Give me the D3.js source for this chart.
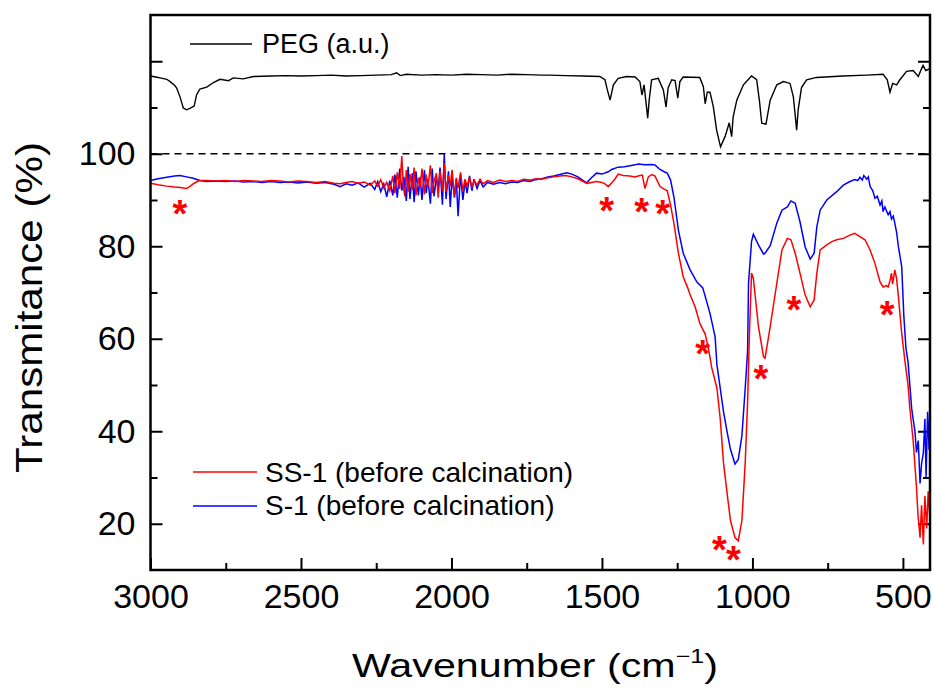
<!DOCTYPE html>
<html>
  <head>
    <meta charset="utf-8">
    <script src="https://d3js.org/d3.v7.min.js"></script>
    <style>
      body { margin: 0; background: #fff; }
      svg { font-family: "Liberation Sans", Arial, sans-serif; }
    </style>
  </head>
  <body>
    <svg id="chart" width="934" height="689"></svg>
    <script>
      // spectra: [wavenumber, value]
      var pegData = [[3000,116.8],[2975,116.5],[2946,116.1],[2935,115.6],[2920,114.8],[2913,114.2],[2902,112.3],[2891,109.9],[2880,109.5],[2869,109.8],[2855,110.3],[2847,112.7],[2836,114.0],[2813,114.4],[2791,115.4],[2769,116.1],[2741,115.8],[2725,116.4],[2692,116.2],[2658,116.7],[2600,116.8],[2550,116.9],[2500,116.8],[2450,116.9],[2400,117.0],[2350,116.8],[2300,116.9],[2250,117.0],[2200,117.1],[2182,117.5],[2170,116.9],[2150,117.2],[2100,117.0],[2050,117.1],[2000,117.0],[1950,117.2],[1900,117.1],[1850,117.0],[1800,117.2],[1750,117.1],[1700,117.0],[1673,117.0],[1620,116.9],[1562,116.8],[1507,116.7],[1490,116.0],[1482,113.8],[1473,111.6],[1462,114.9],[1446,116.3],[1418,116.7],[1390,116.6],[1374,115.6],[1367,112.7],[1360,114.9],[1348,107.7],[1343,111.6],[1335,116.0],[1313,116.3],[1296,113.8],[1287,110.1],[1280,114.3],[1268,116.0],[1257,115.8],[1248,112.0],[1241,115.6],[1230,116.6],[1175,116.5],[1163,114.5],[1157,110.8],[1150,113.3],[1141,113.3],[1130,110.2],[1119,105.1],[1106,101.5],[1091,103.7],[1077,106.7],[1069,103.7],[1064,108.0],[1052,111.6],[1030,114.9],[1003,116.8],[986,116.0],[977,111.6],[969,106.6],[955,106.4],[941,111.6],[919,114.9],[897,115.6],[875,115.2],[864,112.3],[853,105.1],[848,109.5],[837,114.3],[820,116.0],[787,116.5],[700,116.8],[620,117.0],[566,117.2],[552,116.0],[543,113.3],[534,115.2],[521,114.9],[510,116.0],[488,117.8],[466,118.0],[449,116.7],[438,118.4],[433,119.1],[424,118.0],[410,118.4]];

      var ss1Data = [[3000,93.6],[2975,93.3],[2946,93.0],[2920,92.8],[2902,92.7],[2880,92.5],[2870,92.9],[2858,93.5],[2845,94.0],[2836,94.2],[2813,94.2],[2780,94.1],[2750,94.2],[2720,94.0],[2690,94.2],[2660,94.1],[2630,94.0],[2600,94.2],[2570,94.1],[2540,93.9],[2510,94.1],[2480,94.0],[2450,93.8],[2420,94.0],[2390,93.6],[2370,93.5],[2350,93.8],[2330,94.0],[2310,93.6],[2290,93.9],[2270,93.2],[2255,94.1],[2245,93.0],[2235,94.4],[2225,92.6],[2215,93.8],[2205,92.0],[2195,95.2],[2188,91.5],[2180,96.0],[2172,92.4],[2165,99.5],[2160,93.0],[2155,90.8],[2150,96.5],[2144,91.8],[2138,95.6],[2130,92.2],[2124,97.0],[2118,91.0],[2110,94.8],[2104,92.6],[2098,96.8],[2090,91.2],[2084,95.5],[2078,92.8],[2070,97.5],[2064,91.5],[2058,94.0],[2050,95.8],[2044,90.5],[2038,96.2],[2030,92.0],[2024,98.0],[2018,91.8],[2010,95.4],[2004,93.0],[1998,96.5],[1990,90.8],[1984,94.8],[1978,92.5],[1970,96.0],[1962,92.0],[1955,94.5],[1948,93.0],[1940,95.0],[1932,92.8],[1925,94.2],[1915,93.3],[1905,94.5],[1895,93.5],[1880,94.2],[1860,93.8],[1840,94.3],[1820,94.0],[1800,94.2],[1780,94.0],[1760,94.5],[1740,94.3],[1720,94.6],[1700,94.5],[1680,94.8],[1660,95.0],[1640,95.2],[1620,95.3],[1600,95.0],[1580,94.6],[1562,94.0],[1551,93.6],[1535,93.8],[1518,94.0],[1500,93.8],[1490,93.5],[1479,92.9],[1468,93.7],[1456,94.6],[1446,95.6],[1430,95.3],[1407,95.2],[1390,95.0],[1380,95.2],[1366,95.4],[1357,92.5],[1346,95.0],[1335,95.5],[1324,95.2],[1307,92.9],[1295,92.4],[1283,92.0],[1272,88.9],[1261,85.0],[1246,78.5],[1230,73.4],[1215,71.0],[1207,69.5],[1190,66.8],[1174,63.2],[1157,61.0],[1145,57.5],[1135,53.7],[1118,49.3],[1107,42.7],[1096,33.1],[1084,26.5],[1073,20.7],[1058,17.0],[1047,16.3],[1035,20.7],[1024,33.1],[1016,46.4],[1010,61.0],[1003,74.2],[997,73.1],[980,62.6],[963,56.1],[958,55.8],[941,62.6],[919,72.0],[902,79.2],[884,81.7],[872,81.4],[858,78.5],[842,74.2],[825,69.5],[808,66.9],[795,68.4],[786,74.2],[775,79.2],[753,80.3],[736,81.0],[720,81.4],[698,81.7],[676,82.4],[660,82.8],[643,82.1],[626,81.4],[609,79.2],[593,76.3],[576,72.3],[566,71.2],[555,71.5],[549,71.2],[543,72.5],[538,74.2],[534,71.8],[527,74.9],[521,73.0],[515,69.1],[504,61.2],[493,55.0],[483,50.0],[477,45.0],[466,38.0],[455,28.0],[450,22.0],[443,17.0],[438,24.0],[432,15.5],[427,26.0],[421,19.0],[416,27.0],[410,21.0]];

      var s1Data = [[3000,94.2],[2975,94.6],[2946,94.9],[2920,95.2],[2902,95.3],[2880,95.0],[2858,94.7],[2836,94.2],[2813,94.0],[2780,94.1],[2750,94.0],[2720,94.1],[2690,93.9],[2660,94.0],[2630,93.8],[2600,94.0],[2570,93.8],[2540,93.9],[2510,93.7],[2480,93.9],[2450,93.6],[2420,93.8],[2390,93.4],[2370,92.9],[2350,93.5],[2330,93.2],[2310,93.7],[2290,92.8],[2270,93.6],[2255,92.3],[2245,94.0],[2235,91.8],[2225,93.5],[2215,90.7],[2205,94.2],[2195,91.0],[2188,95.5],[2180,90.5],[2172,96.8],[2165,92.0],[2158,95.0],[2150,89.8],[2144,97.2],[2138,90.2],[2130,95.8],[2124,89.5],[2118,96.2],[2110,91.0],[2104,95.0],[2098,90.0],[2090,96.5],[2084,91.5],[2078,94.5],[2070,89.2],[2064,96.8],[2058,90.8],[2050,95.0],[2044,92.2],[2038,97.0],[2030,89.0],[2024,100.0],[2018,90.2],[2010,96.2],[2004,88.5],[1998,95.0],[1990,90.5],[1984,94.5],[1978,86.5],[1970,95.5],[1962,90.0],[1955,94.0],[1948,91.5],[1940,95.2],[1932,92.0],[1925,94.5],[1915,92.5],[1905,94.2],[1895,92.8],[1880,93.8],[1860,93.4],[1840,93.8],[1820,93.5],[1800,93.9],[1780,93.8],[1760,94.2],[1740,94.0],[1720,94.4],[1700,94.6],[1680,95.0],[1660,95.2],[1640,95.5],[1617,95.9],[1600,95.6],[1580,95.0],[1562,94.2],[1551,93.7],[1535,94.8],[1518,95.8],[1500,95.6],[1479,96.1],[1468,96.6],[1446,97.1],[1425,97.2],[1407,97.4],[1390,97.6],[1380,97.8],[1357,97.6],[1335,97.7],[1324,97.6],[1307,96.6],[1290,96.0],[1283,95.8],[1272,94.3],[1261,90.7],[1246,83.5],[1230,78.5],[1207,74.9],[1185,72.3],[1165,71.0],[1141,65.5],[1124,60.4],[1118,54.4],[1107,49.3],[1096,44.2],[1084,39.8],[1073,36.1],[1058,32.9],[1047,33.9],[1035,39.0],[1024,49.3],[1016,57.4],[1013,72.0],[1003,81.0],[997,82.6],[980,80.3],[963,78.3],[958,78.5],[941,80.1],[919,85.0],[902,87.8],[884,88.5],[872,89.8],[858,89.3],[842,85.3],[825,79.9],[808,77.2],[795,78.5],[786,84.2],[775,87.8],[753,90.0],[720,91.8],[698,93.2],[676,94.0],[660,94.4],[650,94.2],[643,94.9],[635,94.3],[630,95.3],[620,94.5],[615,95.0],[609,92.9],[600,92.0],[593,90.4],[585,90.8],[576,88.9],[570,89.8],[566,87.5],[560,88.5],[549,86.8],[543,87.5],[538,85.9],[532,86.5],[527,85.0],[521,83.0],[515,79.9],[504,75.6],[497,65.0],[490,58.0],[483,55.0],[477,50.0],[471,45.0],[466,42.6],[460,40.0],[455,35.4],[449,38.0],[443,28.7],[438,33.0],[432,35.4],[427,42.7],[423,30.0],[418,44.2],[413,36.0],[410,47.0]];

      // asterisk markers: [wavenumber, transmittance]
      var starData = [[2902,88.8],[1484,89.4],[1368,89.3],[1298,88.9],[1165,58.5],[972,53.2],[862,68.0],[552,67.1],[1110,16.3],[1063,14.1]];

      var xMajor = [3000, 2500, 2000, 1500, 1000, 500];
      var xMinor = [2750, 2250, 1750, 1250, 750];
      var yMajor = [20, 40, 60, 80, 100, 120];
      var yMinor = [30, 50, 70, 90, 110];
      var yLabels = [20, 40, 60, 80, 100];

      var svg = d3.select("#chart");
      var plotL = 150.5, plotR = 930, plotT = 15, plotB = 570;

      var x = d3.scaleLinear().domain([3000, 410]).range([plotL, plotR]);
      var y = d3.scaleLinear().domain([10, 130]).range([plotB, plotT]);

      svg.append("defs").append("clipPath").attr("id", "plot")
        .append("rect").attr("x", plotL).attr("y", plotT)
        .attr("width", plotR - plotL).attr("height", plotB - plotT);

      function styleAxis(g) {
        g.select(".domain").remove();
        g.selectAll(".tick line").attr("stroke", "#000").attr("stroke-width", 2);
        g.selectAll(".tick text").attr("fill", "#000").style("font-size", "34px")
          .style("font-family", "'Liberation Sans', Arial, sans-serif");
      }

      // bottom axis
      svg.append("g").attr("transform", "translate(0," + plotB + ")")
        .call(d3.axisBottom(x).tickValues(xMajor).tickSize(-12).tickPadding(14).tickFormat(d3.format("d")))
        .call(styleAxis);
      svg.append("g").attr("transform", "translate(0," + plotB + ")")
        .call(d3.axisBottom(x).tickValues(xMinor).tickSize(-7).tickFormat(""))
        .call(styleAxis);

      // left axis
      svg.append("g").attr("transform", "translate(" + plotL + ",0)")
        .call(d3.axisLeft(y).tickValues(yMajor).tickSize(-12).tickPadding(15)
          .tickFormat(function(d) { return yLabels.indexOf(d) >= 0 ? d : ""; }))
        .call(styleAxis);
      svg.append("g").attr("transform", "translate(" + plotL + ",0)")
        .call(d3.axisLeft(y).tickValues(yMinor).tickSize(-7).tickFormat(""))
        .call(styleAxis);

      // right axis (mirror ticks)
      svg.append("g").attr("transform", "translate(" + plotR + ",0)")
        .call(d3.axisRight(y).tickValues(yMajor).tickSize(-12).tickFormat(""))
        .call(styleAxis);
      svg.append("g").attr("transform", "translate(" + plotR + ",0)")
        .call(d3.axisRight(y).tickValues(yMinor).tickSize(-7).tickFormat(""))
        .call(styleAxis);

      // 100% reference line
      svg.append("line")
        .attr("x1", plotL).attr("x2", plotR)
        .attr("y1", y(100)).attr("y2", y(100))
        .attr("stroke", "#000").attr("stroke-width", 1.5)
        .attr("stroke-dasharray", "7,5");

      var line = d3.line()
        .x(function(d) { return x(d[0]); })
        .y(function(d) { return y(d[1]); });

      var curves = svg.append("g").attr("clip-path", "url(#plot)");
      curves.append("path").datum(pegData).attr("d", line)
        .attr("fill", "none").attr("stroke", "#000").attr("stroke-width", 1.4);
      curves.append("path").datum(s1Data).attr("d", line)
        .attr("fill", "none").attr("stroke", "#0000ff").attr("stroke-width", 1.5);
      curves.append("path").datum(ss1Data).attr("d", line)
        .attr("fill", "none").attr("stroke", "#ff0000").attr("stroke-width", 1.5);

      // red asterisks
      svg.append("g").selectAll("text.star")
        .data(starData).enter().append("text")
        .attr("class", "star")
        .attr("x", function(d) { return x(d[0]); })
        .attr("y", function(d) { return y(d[1]); })
        .attr("dy", "0.57em")
        .attr("text-anchor", "middle")
        .attr("fill", "#ff0000")
        .style("font-size", "38px").style("font-weight", "bold")
        .text("*");

      // frame
      svg.append("rect")
        .attr("x", plotL).attr("y", plotT)
        .attr("width", plotR - plotL).attr("height", plotB - plotT)
        .attr("fill", "none").attr("stroke", "#000").attr("stroke-width", 2.5);

      // legends
      var legends = [
        {label: "PEG (a.u.)", color: "#000", x1: 190, x2: 252, ly: 44, tx: 262, ty: 53, size: 27},
        {label: "SS-1 (before calcination)", color: "#ff0000", x1: 193, x2: 257, ly: 472, tx: 265, ty: 482, size: 28},
        {label: "S-1 (before calcination)", color: "#0000ff", x1: 193, x2: 257, ly: 506, tx: 265, ty: 515, size: 28}
      ];
      legends.forEach(function(l) {
        svg.append("line").attr("x1", l.x1).attr("x2", l.x2)
          .attr("y1", l.ly).attr("y2", l.ly)
          .attr("stroke", l.color).attr("stroke-width", 1.5);
        svg.append("text").attr("x", l.tx).attr("y", l.ty)
          .style("font-size", l.size + "px").attr("fill", "#000")
          .text(l.label);
      });

      // axis titles, stretched to the width seen in the figure
      var xt = svg.append("g");
      var xtText = xt.append("text").attr("text-anchor", "start").style("font-size", "33px");
      xtText.append("tspan").text("Wavenumber (cm");
      xtText.append("tspan").attr("dy", -14).style("font-size", "20px").text("\u22121");
      xtText.append("tspan").attr("dy", 14).text(")");
      var xw = xtText.node().getBBox().width;
      xt.attr("transform", "translate(352,677) scale(" + (366 / xw) + ",1)");

      var yt = svg.append("g");
      var ytText = yt.append("text").attr("text-anchor", "middle").style("font-size", "37px")
        .text("Transmitance (%)");
      var yw = ytText.node().getBBox().width;
      yt.attr("transform", "translate(42,307.5) rotate(-90) scale(" + (331 / yw) + ",1)");
    </script>
  </body>
</html>
